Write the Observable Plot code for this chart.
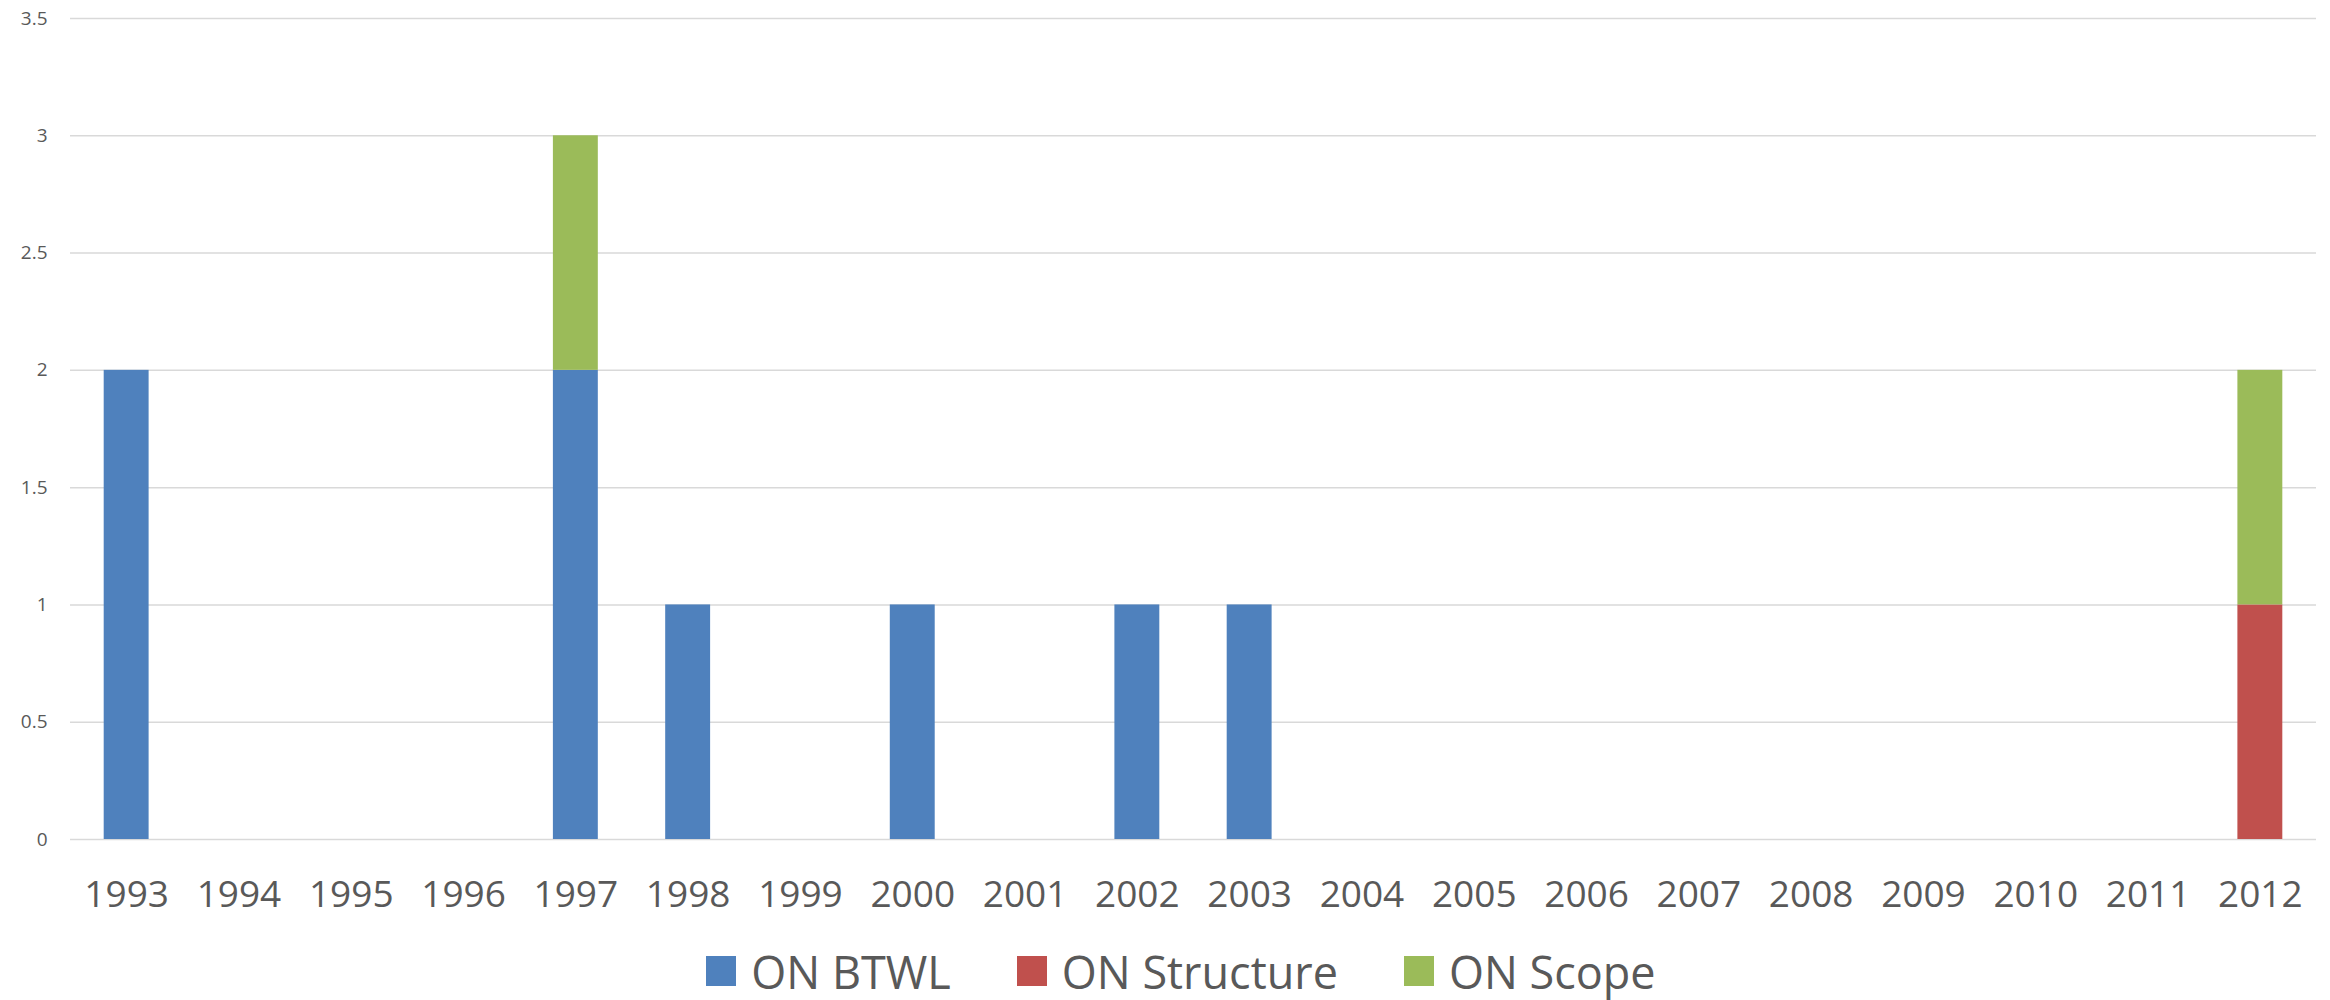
<!DOCTYPE html>
<html>
<head>
<meta charset="utf-8">
<script src="https://cdn.jsdelivr.net/npm/d3@7"></script>
<script src="https://cdn.jsdelivr.net/npm/@observablehq/plot@0.6"></script>
<style>
  html, body { margin: 0; padding: 0; background: #fff; }
  body { width: 2330px; height: 1000px; overflow: hidden; font-family: "Open Sans", sans-serif; }
  #chart svg { display: block; }
  #legend { display: flex; justify-content: center; align-items: center; height: 80px; padding-top: 22px; padding-left: 32px; box-sizing: border-box; }
  .item { display: flex; align-items: center; margin: 0 33px; color: #595959; font-size: 45px; line-height: 1; }
  .sw { width: 30px; height: 30px; margin-right: 15px; }
</style>
</head>
<body>
<div id="chart"></div>
<div id="legend"></div>
<script>
const years = ["1993","1994","1995","1996","1997","1998","1999","2000","2001","2002","2003","2004","2005","2006","2007","2008","2009","2010","2011","2012"];
const series = ["ON BTWL", "ON Structure", "ON Scope"];
const colors = ["#4F81BD", "#C0504D", "#9BBB59"];
const btwl      = [2,0,0,0,2,1,0,1,0,1,1,0,0,0,0,0,0,0,0,0];
const structure = [0,0,0,0,0,0,0,0,0,0,0,0,0,0,0,0,0,0,0,1];
const scope     = [0,0,0,0,1,0,0,0,0,0,0,0,0,0,0,0,0,0,0,1];
const yTicks = [0, 0.5, 1, 1.5, 2, 2.5, 3, 3.5];

const values = [btwl, structure, scope];
const data = [];
series.forEach((s, si) => years.forEach((y, i) => {
  if (values[si][i] > 0) data.push({year: y, series: s, value: values[si][i]});
}));

const chart = Plot.plot({
  width: 2330,
  height: 920,
  marginTop: 18,
  marginBottom: 81,
  marginLeft: 70,
  marginRight: 14,
  style: { fontFamily: "'Open Sans', sans-serif", color: "#595959", background: "#fff" },
  x: { domain: years, paddingInner: 0.6, paddingOuter: 0.3, round: false, label: null },
  y: { domain: [0, 3.5], label: null },
  color: { domain: series, range: colors },
  marks: [
    Plot.ruleY(yTicks, { stroke: "#d9d9d9", strokeWidth: 1.5 }),
    Plot.barY(data, Plot.stackY({
      x: "year", y: "value", fill: "series", order: series
    })),
    Plot.axisX({ tickSize: 0, tickPadding: 41, fontSize: 37, fill: "#595959" }),
    Plot.axisY({ ticks: yTicks, tickSize: 0, tickPadding: 23, fontSize: 19, fill: "#595959",
                 tickFormat: d => String(d) })
  ]
});
document.getElementById("chart").appendChild(chart);

const legend = document.getElementById("legend");
series.forEach((s, i) => {
  const it = document.createElement("div");
  it.className = "item";
  const sw = document.createElement("div");
  sw.className = "sw";
  sw.style.background = colors[i];
  it.appendChild(sw);
  const t = document.createElement("span");
  t.textContent = s;
  it.appendChild(t);
  legend.appendChild(it);
});
</script>
</body>
</html>
